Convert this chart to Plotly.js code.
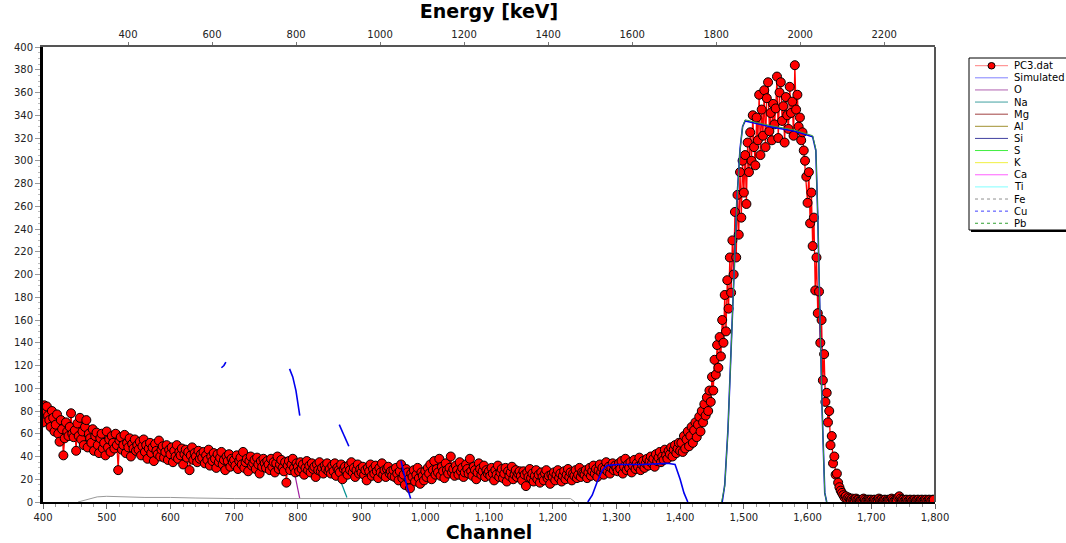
<!DOCTYPE html>
<html>
<head>
<meta charset="utf-8">
<script src="https://cdn.plot.ly/plotly-3.0.1.min.js"></script>
<style>html,body{margin:0;padding:0;background:#fff;}#chart{width:1066px;height:543px;}</style>
</head>
<body>
<div id="chart"></div>
<script>
// ---------- DATA ----------
const channelStart = 400;
const channelStep = 2;
const pc3Counts = [
70,85,80,84,76,72,66,80,74,62,68,77,60,53,72,64,41,56,70,62,58,66,78,60,57,
63,45,69,58,74,55,62,50,66,72,48,60,56,52,64,45,58,61,50,43,56,60,47,52,41,
62,48,55,44,58,52,47,60,50,28,54,57,46,50,59,43,52,48,56,40,51,47,55,45,50,
46,53,41,49,55,44,50,38,47,52,43,48,36,51,45,42,54,40,46,49,39,44,50,37,46,
42,48,35,45,40,50,38,44,41,47,33,42,46,39,44,28,41,48,37,43,40,35,45,38,42,
39,44,34,41,37,46,32,40,36,43,38,30,42,35,39,44,33,37,28,40,36,42,31,38,35,
37,32,41,29,36,39,33,44,30,35,38,27,36,40,32,34,37,29,39,33,25,36,31,38,34,
30,36,33,28,38,31,35,26,34,40,29,33,37,30,27,35,17,32,36,28,33,38,30,26,34,
31,27,35,29,33,24,30,36,28,32,26,34,29,31,22,33,28,35,27,30,25,32,29,34,27,
29,25,32,27,34,23,30,28,26,33,20,29,31,27,24,32,28,35,26,30,22,28,33,25,29,
26,31,24,28,19,30,27,33,23,29,25,32,27,21,30,26,34,24,28,22,29,31,25,27,23,
28,22,30,25,19,27,33,21,24,15,29,26,20,12,25,22,28,18,24,30,21,16,26,23,19,
27,22,30,25,33,20,28,36,24,29,26,38,23,31,27,21,34,28,25,30,40,26,29,23,32,
28,24,35,27,30,22,26,33,29,25,38,27,23,31,28,20,26,34,29,24,27,32,22,28,25,
27,23,30,25,19,28,24,32,22,26,29,21,25,30,18,27,23,26,31,20,24,28,22,25,27,
23,19,27,24,14,26,22,29,21,25,18,23,28,20,24,17,26,22,19,25,28,21,23,16,24,
22,26,19,24,28,21,25,18,23,27,20,24,29,22,26,19,25,23,28,21,24,30,22,26,25,
24,28,21,26,30,23,27,32,25,29,22,28,33,26,30,24,29,35,27,31,25,30,34,28,32,
30,27,34,29,36,25,31,38,28,33,30,35,26,32,37,29,34,31,39,28,33,36,30,34,38,
32,36,40,34,38,31,42,36,39,44,35,40,37,46,41,38,45,42,48,40,46,50,43,47,52,
45,52,44,58,47,55,62,49,58,66,52,63,70,57,68,75,62,80,70,86,76,92,80,98,88,
110,98,125,112,138,118,145,128,160,140,182,150,195,170,215,184,230,200,255,215,270,235,290,250,300,
272,305,262,316,290,325,300,340,312,296,338,318,358,305,345,322,362,312,355,369,326,342,318,350,332,
346,374,320,360,369,335,348,316,356,340,328,365,342,352,322,384,345,358,330,338,318,325,309,300,286,
263,290,245,272,225,250,186,215,166,185,140,160,107,130,88,96,70,80,50,58,34,40,24,25,17,
13,10,8,6,4,5,3,4,3,2,3,2,2,3,2,2,1,2,2,3,2,1,2,2,2,
2,1,2,2,1,2,3,2,2,1,2,2,1,2,2,2,3,2,1,2,2,4,5,3,2,
2,1,2,2,1,2,2,1,2,2,1,2,2,1,2,2,1,2,2,1,2,2,1,2,2
];
const pc3Channels = pc3Counts.map((_, i) => channelStart + i * channelStep);

// Simulated spectrum (visible pieces; null = gap)
const simChannels = [680,684,687,null,787,792,797,803,null,865,872,880,null,962,967,972,977,null,
  1255,1262,1270,1278,1285,1300,1340,1380,1392,1400,1406,1412,null,
  1466,1470,1475,1480,1483,1486,1489,1494,1498,1502,1541,1580,1608,1613,1616,1618,1620,1623,1627,1630];
const simCounts = [118,120,123,null,117,110,98,76,null,68,59,49,null,36,24,12,3,null,
  0,6,18,28,32,33,33,34,33,20,8,0,null,
  0,15,63,130,166,221,265,310,330,335,330,326,321,309,251,180,150,78,8,0];

const oChannels = [676,700,740,790,796,803];
const oCounts = [41,40,40,39,22,3];
const naChannels = [866,872,877];
const naCounts = [20,11,4];
const feChannels = [455,470,485,500,520,560,600,630,640,700,800,900,1000,1100,1200,1228,1235];
const feCounts = [0,2.5,4.5,5,4.5,4,4,4,3.5,3,3,3,3,3,3,3,0];
const pbChannels = [1465,1470,1475,1480,1483,1486,1489,1494,1498,1502,1541,1580,1608,1613,1616,1618,1620,1623,1627,1630];
const pbCounts = [0,14,62,128,165,220,264,309,330,336,331,327,322,310,252,181,150,78,8,0];

const energyTicks = [400,600,800,1000,1200,1400,1600,1800,2000,2200];
const energyRange = [197.6, 2321];
const legendNames = ['PC3.dat','Simulated','O','Na','Mg','Al','Si','S','K','Ca','Ti','Fe','Cu','Pb'];

// ---------- STYLES ----------
const legendColors = ['#ff8080','#8080ff','#b060b0','#40a0a0','#a04040','#a09030','#4040a0','#40ee40','#f0f040','#ff60ff','#80ffff','#909090','#4040ff','#30a030'];
const legendDash = ['solid','solid','solid','solid','solid','solid','solid','solid','solid','solid','solid','dot','dot','dot'];

const traces = [
  {x:oChannels, y:oCounts, mode:'lines', line:{color:'#a020a0', width:1.2}, hoverinfo:'skip'},
  {x:naChannels, y:naCounts, mode:'lines', line:{color:'#009090', width:1.2}, hoverinfo:'skip'},
  {x:feChannels, y:feCounts, mode:'lines', line:{color:'#999999', width:1}, hoverinfo:'skip'},
  {x:pc3Channels, y:pc3Counts, mode:'lines+markers', line:{color:'#ff0000', width:1.3},
   marker:{color:'#ff0000', size:9, line:{color:'#000000', width:1}}, hoverinfo:'skip'},
  {x:simChannels, y:simCounts, mode:'lines', line:{color:'#0000ee', width:1.6}, hoverinfo:'skip'},
  {x:pbChannels, y:pbCounts, mode:'lines', line:{color:'#3a9a3a', width:1}, hoverinfo:'skip'},
  {x:energyRange, y:[-50,-50], xaxis:'x2', mode:'lines', line:{width:0}, hoverinfo:'skip'}
];

// legend drawn manually (pixel -> paper conversion)
const L = 43, R = 935, T = 47, B = 502;
const px = v => (v - L) / (R - L);
const py = v => (B - v) / (B - T);
const shapes = [
  {type:'line', xref:'paper', yref:'paper', x0:1, x1:1, y0:0, y1:1, line:{color:'#555', width:2}},
  {type:'rect', xref:'paper', yref:'paper', x0:px(971), x1:px(1090), y0:py(232), y1:py(60), fillcolor:'#000', line:{width:0}},
  {type:'rect', xref:'paper', yref:'paper', x0:px(969), x1:px(1088), y0:py(230), y1:py(58), fillcolor:'#fff', line:{color:'#000', width:1}}
];
const annotations = [];
legendNames.forEach((n, i) => {
  const yy = 65.7 + 12.12 * i;
  shapes.push({type:'line', xref:'paper', yref:'paper', x0:px(975), x1:px(1008), y0:py(yy), y1:py(yy),
    line:{color:legendColors[i], width:1, dash:legendDash[i]}});
  annotations.push({xref:'paper', yref:'paper', x:px(1012), y:py(yy), xanchor:'left', yanchor:'middle',
    text:n, showarrow:false, font:{family:'DejaVu Sans', size:10, color:'#000'}});
});
shapes.push({type:'circle', xref:'paper', yref:'paper', x0:px(988), x1:px(995), y0:py(69), y1:py(62.5),
  fillcolor:'#ff0000', line:{color:'#000', width:1}});

const tickFont = {family:'DejaVu Sans', size:10, color:'#222'};
const titleFont = {family:'DejaVu Sans', size:19, weight:'bold', color:'#000'};

const layout = {
  width:1066, height:543,
  margin:{l:43, r:131, t:47, b:41, pad:0},
  paper_bgcolor:'#fff', plot_bgcolor:'#fff',
  showlegend:false,
  font:tickFont,
  xaxis:{range:[400,1800], tick0:400, dtick:100, tickformat:',d', ticks:'outside', ticklen:5, tickcolor:'#666',
    showline:true, linecolor:'#000', linewidth:2, showgrid:false, zeroline:false, tickfont:tickFont,
    minor:{dtick:20, ticks:'outside', ticklen:3, tickcolor:'#999'},
    title:{text:'Channel', font:titleFont, standoff:6}},
  xaxis2:{overlaying:'x', side:'top', range:energyRange, tickvals:energyTicks, ticktext:energyTicks.map(String),
    ticks:'outside', ticklen:3, tickcolor:'#777', showline:true, linecolor:'#555', linewidth:2,
    showgrid:false, zeroline:false, tickfont:tickFont,
    title:{text:'Energy [keV]', font:titleFont, standoff:6}},
  yaxis:{range:[0,400], dtick:20, ticks:'outside', ticklen:5, tickcolor:'#999', showline:true, linecolor:'#000',
    linewidth:3, showgrid:false, zeroline:false, tickfont:tickFont,
    minor:{dtick:5, ticks:'outside', ticklen:2, tickcolor:'#bbb'}},
  shapes:shapes,
  annotations:annotations
};

Plotly.newPlot('chart', traces, layout, {staticPlot:true, displayModeBar:false});
</script>
</body>
</html>
